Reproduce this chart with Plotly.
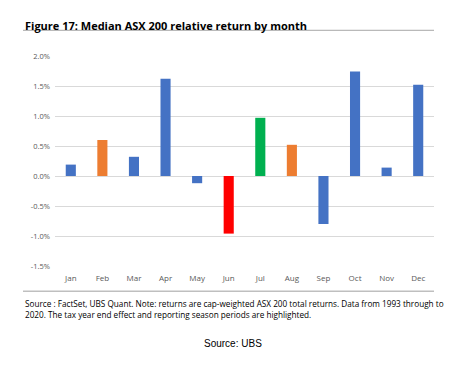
import plotly.graph_objects as go

months = ["Jan", "Feb", "Mar", "Apr", "May", "Jun", "Jul", "Aug", "Sep", "Oct", "Nov", "Dec"]
returns = [0.19, 0.60, 0.32, 1.62, -0.12, -0.96, 0.97, 0.52, -0.80, 1.74, 0.14, 1.52]
bar_colors = ["#4472C4", "#ED7D31", "#4472C4", "#4472C4", "#4472C4", "#FF0000",
              "#00B050", "#ED7D31", "#4472C4", "#4472C4", "#4472C4", "#4472C4"]
y_ticks = [-1.5, -1.0, -0.5, 0.0, 0.5, 1.0, 1.5, 2.0]
y_tick_labels = ["-1.5%", "-1.0%", "-0.5%", "0.0%", "0.5%", "1.0%", "1.5%", "2.0%"]

title_text = "Figure 17: Median ASX 200 relative return by month"
note_text = ("Source : FactSet, UBS Quant. Note: returns are cap-weighted ASX 200 total returns. Data from 1993 through to"
             "<br>2020. The tax year end effect and reporting season periods are highlighted.")
source_text = "Source: UBS"

fig = go.Figure(go.Bar(x=months, y=returns, marker=dict(color=bar_colors, line=dict(width=0)),
                       width=0.32))

fig.update_layout(
    width=466, height=357,
    margin=dict(l=47, r=40, t=48, b=99),
    paper_bgcolor="white", plot_bgcolor="white",
    showlegend=False,
    font=dict(family="Open Sans", color="#595959"),
    xaxis=dict(showgrid=False, showline=False, ticks="", tickfont=dict(size=8, color="#595959"),
               ticklabelstandoff=6, fixedrange=True),
    yaxis=dict(range=[-1.5, 2.0], tickvals=y_ticks, ticktext=y_tick_labels,
               showgrid=True, gridcolor="#D9D9D9", gridwidth=1, zeroline=False,
               tickfont=dict(size=7.5, color="#595959"), ticks="", ticklen=0,
               ticklabelstandoff=4, showline=False),
)

# underline under title and separator line
fig.add_shape(type="line", xref="paper", yref="paper", x0=-0.0844, x1=1.0, y0=1.1224, y1=1.1224,
              line=dict(color="#A6A6A6", width=1))
fig.add_shape(type="line", xref="paper", yref="paper", x0=-0.0844, x1=1.0, y0=-0.1205, y1=-0.1205,
              line=dict(color="#BFBFBF", width=1.5))

fig.add_annotation(text="<b>" + title_text + "</b>", xref="paper", yref="paper",
                   x=-0.0844, y=1.146, xanchor="left", yanchor="middle", showarrow=False,
                   font=dict(size=11, color="#000000", family="Open Sans"))
fig.add_annotation(text=note_text, xref="paper", yref="paper", x=-0.0844, y=-0.2067,
                   xanchor="left", yanchor="middle", align="left", showarrow=False,
                   font=dict(size=8.2, color="#000000", family="Open Sans"))
fig.add_annotation(text=source_text, xref="paper", yref="paper", x=0.4697, y=-0.368,
                   xanchor="center", yanchor="middle", showarrow=False,
                   font=dict(size=10, color="#000000", family="Liberation Sans"))

fig.write_html("out.html")
